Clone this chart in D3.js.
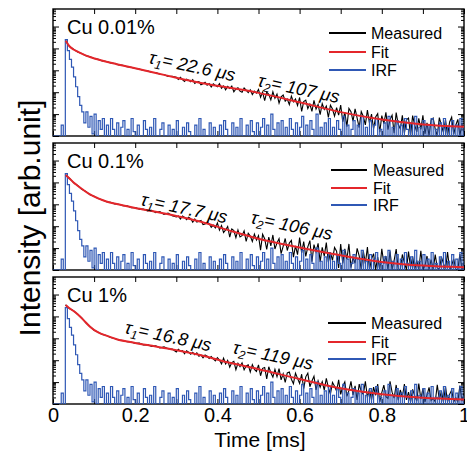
<!DOCTYPE html>
<html>
<head>
<meta charset="utf-8">
<script src="https://cdn.jsdelivr.net/npm/d3@7"></script>
<style>
  body { margin: 0; background: #fff; }
  svg { font-family: "Liberation Sans", Arial, Helvetica, sans-serif; }
</style>
</head>
<body>
<svg id="chart" width="467" height="454"></svg>
<script>
// ---- data (intensities are log10 of counts) ----
const panelLabels = ['Cu 0.01%', 'Cu 0.1%', 'Cu 1%'];
const tau1Values = ['22.6', '17.7', '16.8'];
const tau2Values = ['107', '106', '119'];
const legendLabels = ['Measured', 'Fit', 'IRF'];
const xTickLabels = [0, 0.2, 0.4, 0.6, 0.8, 1];

// measured decays: early part every 0.01 ms from 0.03 ms,
// late part every 0.005 ms from 0.30 ms
const earlyStart = 0.03, earlyStep = 0.01;
const lateStart = 0.30, lateStep = 0.005;

const measuredEarly001 = [
  4.36, 4.09, 3.96, 3.84, 3.77, 3.67, 3.62, 3.54, 3.50, 3.43,
  3.40, 3.34, 3.31, 3.25, 3.23, 3.16, 3.14, 3.08, 3.06, 2.99,
  2.98, 2.90, 2.90, 2.82, 2.81, 2.72, 2.73
];
const measuredLate001 = [
  2.68, 2.58, 2.68, 2.58, 2.49, 2.60, 2.55, 2.48, 2.57, 2.40,
  2.47, 2.48, 2.34, 2.39, 2.45, 2.32, 2.39, 2.24, 2.38, 2.31,
  2.25, 2.39, 2.18, 2.29, 2.11, 2.27, 2.17, 2.28, 2.02, 2.15,
  2.20, 2.05, 2.00, 2.19, 2.09, 1.98, 2.11, 1.89, 2.05, 1.96,
  2.13, 1.77, 2.00, 1.62, 2.00, 1.90, 1.65, 2.02, 1.72, 1.91,
  1.50, 1.79, 1.87, 1.59, 1.69, 1.43, 1.82, 1.56, 1.69, 1.39,
  1.76, 1.12, 1.57, 1.64, 1.25, 1.46, 1.12, 1.63, 1.23, 1.44,
  0.98, 1.48, 1.21, 1.37, 0.85, 1.41, 1.23, 0.91, 1.30, 0.95,
  1.41, 0.65, 1.09, 0.43, 1.26, 1.11, 0.68, 1.24, 0.82, 0.38,
  1.11, 0.89, 0.51, 1.18, 0.60, 1.00, 0.33, 0.87, 1.02, 0.17,
  0.93, 0.56, 1.08, 0.29, 0.75, 0.95, 0.13, 1.07, 0.52, 0.33,
  0.94, 0.13, 0.74, 0.82, 0.02, 0.93, 0.50, 0.19, 0.81, 0.30,
  0.94, 0.10, 0.60, 0.02, 0.73, 0.82, 0.31, 0.02, 0.84, 0.48,
  0.17, 0.74, 0.02, 0.64, 0.86, 0.09, 0.49, 0.76, 0.02, 0.57,
  0.18
];

const measuredEarly01 = [
  4.34, 4.19, 3.99, 3.86, 3.69, 3.59, 3.44, 3.37, 3.26, 3.20,
  3.12, 3.09, 3.02, 3.00, 2.94, 2.93, 2.85, 2.85, 2.78, 2.78,
  2.70, 2.73, 2.62, 2.67, 2.54, 2.60, 2.48
];
const measuredLate01 = [
  2.42, 2.47, 2.33, 2.47, 2.40, 2.30, 2.41, 2.35, 2.18, 2.33,
  2.19, 2.23, 2.26, 2.07, 2.10, 2.17, 2.12, 1.95, 2.05, 1.92,
  2.15, 1.82, 2.03, 1.71, 1.83, 1.99, 1.50, 1.87, 1.80, 1.48,
  1.83, 1.51, 1.57, 1.79, 1.31, 1.68, 1.55, 1.30, 1.64, 1.37,
  1.57, 0.91, 1.63, 1.43, 0.94, 1.50, 1.10, 1.60, 0.96, 1.24,
  1.43, 0.75, 1.08, 1.44, 0.89, 1.23, 1.35, 0.59, 1.10, 0.70,
  1.48, 0.78, 1.30, 0.62, 1.06, 1.34, 0.38, 1.16, 0.83, 1.22,
  0.37, 1.03, 0.63, 1.25, 0.36, 0.81, 0.44, 1.03, 0.86, 0.09,
  1.19, 0.30, 0.97, 0.50, 1.19, 0.11, 0.57, 0.31, 0.99, 0.65,
  0.02, 0.88, 0.29, 1.05, 0.02, 0.50, 0.75, 0.02, 0.59, 0.02,
  0.97, 0.29, 0.64, 0.02, 0.85, 0.02, 0.44, 0.96, 0.02, 0.03,
  0.71, 0.33, 0.02, 0.84, 0.11, 0.61, 0.02, 0.44, 0.02, 0.88,
  0.02, 0.19, 0.64, 0.02, 0.48, 0.02, 0.70, 0.10, 0.02, 0.60,
  0.30, 0.02, 0.82, 0.02, 0.22, 0.51, 0.02, 0.02, 0.73, 0.02,
  0.35
];

const measuredEarly1 = [
  4.53, 4.36, 4.26, 4.09, 3.93, 3.71, 3.54, 3.37, 3.28, 3.18,
  3.13, 3.04, 2.99, 2.92, 2.90, 2.84, 2.83, 2.77, 2.78, 2.70,
  2.71, 2.63, 2.66, 2.56, 2.61, 2.52, 2.51
];
const measuredLate1 = [
  2.38, 2.50, 2.41, 2.44, 2.29, 2.43, 2.37, 2.27, 2.36, 2.25,
  2.34, 2.18, 2.24, 2.11, 2.24, 2.18, 2.08, 2.17, 2.06, 1.97,
  2.12, 2.01, 1.83, 2.09, 1.83, 1.99, 1.68, 1.89, 1.95, 1.57,
  1.86, 1.71, 1.88, 1.56, 1.74, 1.79, 1.46, 1.80, 1.58, 1.49,
  1.79, 1.29, 1.63, 1.67, 1.15, 1.70, 1.43, 1.23, 1.58, 1.25,
  1.62, 1.10, 1.38, 0.99, 1.42, 1.46, 1.13, 0.93, 1.41, 1.17,
  0.94, 1.36, 0.70, 1.24, 1.41, 0.79, 1.05, 1.27, 0.64, 1.06,
  0.76, 1.02, 0.63, 1.17, 0.75, 0.45, 0.99, 0.81, 0.59, 1.10,
  0.44, 0.81, 1.01, 0.35, 0.61, 1.03, 0.42, 0.83, 0.19, 0.91,
  0.57, 0.44, 1.04, 0.29, 0.69, 0.19, 0.77, 0.40, 0.91, 0.10,
  0.52, 0.86, 0.33, 0.25, 1.04, 0.54, 0.27, 0.87, 0.17, 0.64,
  0.33, 0.91, 0.19, 0.54, 0.10, 0.67, 0.38, 0.13, 0.93, 0.22,
  0.70, 0.10, 0.41, 0.76, 0.16, 0.26, 0.10, 0.88, 0.19, 0.59,
  0.10, 0.80, 0.10, 0.44, 0.64, 0.10, 0.29, 0.10, 0.84, 0.13,
  0.49
];

// fitted curves (time in ms / log10 counts)
const fitTime = [0.031, 0.04, 0.05, 0.06, 0.075, 0.09, 0.11, 0.13, 0.155, 0.2,
                 0.25, 0.3, 0.36, 0.43, 0.5, 0.6, 0.7, 0.8, 0.9, 1.0];
const fit001 = [4.35, 4.10, 3.95, 3.85, 3.72, 3.61, 3.49, 3.39, 3.28, 3.09,
                2.88, 2.66, 2.42, 2.20, 1.97, 1.54, 1.09, 0.75, 0.53, 0.42];
const fit01 = [4.34, 4.18, 4.00, 3.85, 3.64, 3.45, 3.27, 3.13, 3.01, 2.83,
               2.66, 2.47, 2.20, 1.80, 1.43, 1.03, 0.67, 0.37, 0.20, 0.12];
const fit1 = [4.52, 4.37, 4.25, 4.10, 3.82, 3.53, 3.27, 3.12, 2.96, 2.79,
              2.63, 2.46, 2.23, 1.88, 1.59, 1.14, 0.72, 0.45, 0.28, 0.21];

// instrument response, one bin every 0.005 ms from 0
const irfStep = 0.005;
const irf = [
  0, 0, 0, 0, 0.5, 0, 4.4, 3.9, 3.5, 3.15,
  2.7, 2.25, 1.8, 1.4, 1.1, 0.6, 1.1, 0.4, 0.9, 0.1,
  1.0,
  0, 0.7, 0.3, 0.8, 0, 0.5, 0, 0.8, 0.3, 0,
  0.6, 0, 0.4, 0.7, 0, 0.3, 0, 0.8, 0.2, 0,
  0.5, 0, 0, 0.7, 0.3, 0, 0.4, 0, 0.8, 0,
  0, 0.3, 0.6, 0, 0, 0.5, 0, 0.3, 0, 0.7,
  0, 0, 0.4, 0, 0.6, 0.2, 0, 0, 0.5, 0,
  0.8, 0, 0.3, 0, 0, 0.6, 0, 0.4, 0, 0,
  0.5, 0, 0.7, 0.3, 0, 0, 0.6, 0, 0.4, 0,
  0.8, 0, 0, 0.5, 0, 0.7, 0.2, 0, 0.6, 0,
  0.4, 0.8, 0, 0.5, 0, 1.0, 0.3, 0, 0.6, 0,
  0.7, 0, 0.4, 0, 0.8, 0.3, 0, 0.6, 0, 0.4,
  0.9, 0, 0.5, 0, 0.7, 0.3, 0, 1.0, 0, 0.4,
  0, 0.6, 0, 0.8, 0, 0.4, 0, 0.7, 0.3, 0,
  0.9, 0, 0.5, 0, 0.3, 0.7, 0, 0.5, 0, 0.9,
  0, 0.4, 0, 0.7, 0, 0.5, 0.8, 0, 0.3, 0,
  0.6, 0, 0.9, 0, 0.4, 0, 0.7, 0, 0.5, 0,
  0.8, 0.3, 0, 0.6, 0, 0.9, 0, 0.4, 0, 0.7,
  0, 0.5, 0, 0.8, 0, 0.3, 0, 0.6, 0, 0.8,
  0, 0.4, 0, 0.7, 0, 0.5, 0, 0.8, 0, 0.4
];

const measuredSets = [
  [measuredEarly001, measuredLate001],
  [measuredEarly01, measuredLate01],
  [measuredEarly1, measuredLate1]
];
const fitSets = [fit001, fit01, fit1];

// ---- layout ----
const plotLeft = 53, plotRight = 464;
const panelTops = [9, 143, 277];
const panelHeight = 127;
const colors = { measured: '#000000', fit: '#e4262b', irf: '#2f58b5' };
const legendPos = [
  { x1: 329, x2: 366, tx: 371, rows: [24, 43, 61] },
  { x1: 331, x2: 367, tx: 373, rows: [27, 45, 62] },
  { x1: 328, x2: 366, tx: 371, rows: [46, 65, 82] }
];
const tauPos = [
  { t1: [148, 54], t2: [257, 77] },
  { t1: [140, 62], t2: [250, 80] },
  { t1: [124, 56], t2: [232, 76] }
];

const svg = d3.select('#chart');
const x = d3.scaleLinear().domain([0, 1]).range([plotLeft, plotRight]);
const xMinorTicks = d3.range(0, 11).map(i => i / 10);

const isDecade = d => Math.abs(Math.log10(d) - Math.round(Math.log10(d))) < 1e-9;

function tauLabel(g, pos, sub, val) {
  const t = g.append('text')
    .attr('transform', `translate(${pos[0]},${pos[1]}) rotate(12)`)
    .attr('font-size', 18)
    .attr('font-style', 'italic')
    .attr('fill', '#000');
  t.append('tspan').text('τ');
  t.append('tspan').attr('font-size', 12).attr('dy', 4).text(sub);
  t.append('tspan').attr('dy', -4).text(`= ${val} μs`);
}

panelTops.forEach((top, i) => {
  const bottom = top + panelHeight;
  const y = d3.scaleLog().domain([1, 10 ** 5.8]).range([bottom, top]);
  const g = svg.append('g');

  // frame
  g.append('rect')
    .attr('x', plotLeft).attr('y', top)
    .attr('width', plotRight - plotLeft).attr('height', panelHeight)
    .attr('fill', 'none').attr('stroke', '#000').attr('stroke-width', 1.4);

  // inward ticks on all four sides
  const yTicks = y.ticks();
  const styleTicks = sel => {
    sel.select('.domain').remove();
    sel.selectAll('.tick line').attr('stroke', '#000');
  };
  g.append('g').attr('transform', `translate(${plotLeft},0)`)
    .call(d3.axisRight(y).tickValues(yTicks).tickFormat(''))
    .call(styleTicks)
    .selectAll('.tick line').attr('x2', d => isDecade(d) ? 6 : 3);
  g.append('g').attr('transform', `translate(${plotRight},0)`)
    .call(d3.axisLeft(y).tickValues(yTicks).tickFormat(''))
    .call(styleTicks)
    .selectAll('.tick line').attr('x2', d => isDecade(d) ? -6 : -3);
  g.append('g').attr('transform', `translate(0,${bottom})`)
    .call(d3.axisTop(x).tickValues(xMinorTicks).tickSize(5).tickFormat(''))
    .call(styleTicks);
  g.append('g').attr('transform', `translate(0,${top})`)
    .call(d3.axisBottom(x).tickValues(xMinorTicks).tickSize(5).tickFormat(''))
    .call(styleTicks);

  // data
  svg.append('clipPath').attr('id', 'clip' + i)
    .append('rect')
    .attr('x', plotLeft).attr('y', top)
    .attr('width', plotRight - plotLeft).attr('height', panelHeight);
  const plot = g.append('g').attr('clip-path', `url(#clip${i})`);

  const [early, late] = measuredSets[i];
  const measuredPts = early.map((v, j) => [earlyStart + j * earlyStep, v])
    .concat(late.map((v, j) => [lateStart + j * lateStep, v]));

  const pointLine = d3.line()
    .x(d => x(d[0]))
    .y(d => y(10 ** d[1]));
  const irfLine = d3.line()
    .x((d, j) => x(j * irfStep))
    .y(d => y(10 ** d))
    .curve(d3.curveStepAfter);
  const fitLine = d3.line()
    .x((d, j) => x(fitTime[j]))
    .y(d => y(10 ** d))
    .curve(d3.curveMonotoneX);

  plot.append('path').datum(measuredPts).attr('d', pointLine)
    .attr('fill', 'none').attr('stroke', colors.measured).attr('stroke-width', 1.1);
  plot.append('path').datum(irf).attr('d', irfLine)
    .attr('fill', 'none').attr('stroke', colors.irf).attr('stroke-width', 1.2);
  plot.append('path').datum(fitSets[i]).attr('d', fitLine)
    .attr('fill', 'none').attr('stroke', colors.fit).attr('stroke-width', 2);

  // panel label
  g.append('text').attr('x', 67).attr('y', top + 25)
    .attr('font-size', 20).attr('fill', '#000').text(panelLabels[i]);

  // lifetimes
  const tp = tauPos[i];
  tauLabel(g, [tp.t1[0], top + tp.t1[1]], '1', tau1Values[i]);
  tauLabel(g, [tp.t2[0], top + tp.t2[1]], '2', tau2Values[i]);

  // legend
  const lp = legendPos[i];
  const legendColors = [colors.measured, colors.fit, colors.irf];
  legendLabels.forEach((lab, k) => {
    const ly = top + lp.rows[k];
    g.append('line').attr('x1', lp.x1).attr('x2', lp.x2)
      .attr('y1', ly).attr('y2', ly)
      .attr('stroke', legendColors[k]).attr('stroke-width', 2);
    g.append('text').attr('x', lp.tx).attr('y', ly).attr('dy', '0.36em')
      .attr('font-size', 16).attr('fill', '#000').text(lab);
  });

  // tick labels only under the last panel
  if (i === panelTops.length - 1) {
    const ax = g.append('g').attr('transform', `translate(0,${bottom})`)
      .call(d3.axisBottom(x).tickValues(xTickLabels).tickSize(0).tickPadding(4).tickFormat(d => String(d)));
    ax.select('.domain').remove();
    ax.selectAll('text').attr('font-size', 20).attr('fill', '#000')
      .attr('font-family', '"Liberation Sans", Arial, sans-serif');
  }
});

// axis titles
svg.append('text')
  .attr('transform', 'translate(40,218) rotate(-90)')
  .attr('text-anchor', 'middle').attr('font-size', 30).attr('fill', '#000')
  .text('Intensity [arb.unit]');
svg.append('text')
  .attr('x', 260).attr('y', 447)
  .attr('text-anchor', 'middle').attr('font-size', 21).attr('fill', '#000')
  .text('Time [ms]');
</script>
</body>
</html>
